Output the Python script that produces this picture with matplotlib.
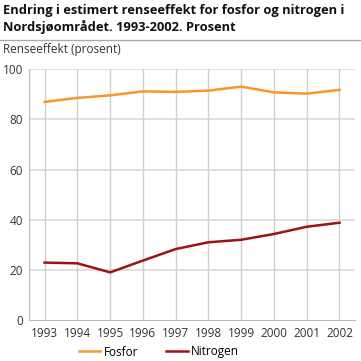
import matplotlib
matplotlib.use("Agg")
import matplotlib.pyplot as plt
from matplotlib.lines import Line2D

years = ["1993", "1994", "1995", "1996", "1997", "1998", "1999", "2000", "2001", "2002"]
fosfor = [87.0, 88.6, 89.6, 91.2, 91.0, 91.5, 93.1, 90.8, 90.3, 91.8]
nitrogen = [22.9, 22.6, 19.0, 23.7, 28.3, 31.0, 32.0, 34.3, 37.2, 38.8]
yticks = [0, 20, 40, 60, 80, 100]

plt.rcParams['font.family'] = ['Open Sans', 'DejaVu Sans']

fig = plt.figure(figsize=(3.61, 3.61), dpi=100)
ax = fig.add_axes([0.080, 0.1136, 0.903, 0.6944])

x = list(range(len(years)))
c_f = '#f7962b'
c_n = '#9e1212'
ax.plot(x, fosfor, color=c_f, lw=1.8, solid_joinstyle='round', zorder=3)
ax.plot(x, nitrogen, color=c_n, lw=1.8, solid_joinstyle='round', zorder=3)

ax.set_xlim(-0.48, len(years) - 1 + 0.47)
ax.set_ylim(0, 100)
ax.set_xticks(x)
ax.set_xticklabels(years)
ax.set_yticks(yticks)
ax.tick_params(axis='both', length=0, labelsize=8.5, colors='#333333')
ax.tick_params(axis='x', pad=5)
ax.tick_params(axis='y', pad=4)

for v in yticks[1:]:
    ax.axhline(v, color='#dcdcdc', lw=1.3, zorder=1)
for xi in x:
    ax.axvline(xi, color='#cfcfcf', lw=1.0, zorder=1)

for s in ['top', 'right']:
    ax.spines[s].set_visible(False)
ax.spines['left'].set_color('#bbbbbb')
ax.spines['bottom'].set_color('#bbbbbb')
ax.spines['left'].set_linewidth(0.8)
ax.spines['bottom'].set_linewidth(0.8)

fig.text(0.008, 0.988, "Endring i estimert renseeffekt for fosfor og nitrogen i\nNordsjøområdet. 1993-2002. Prosent",
         fontsize=9.3, fontweight='bold', va='top', ha='left', linespacing=1.2, color='#111111')
fig.add_artist(Line2D([0, 1], [1 - 39.7/361, 1 - 39.7/361], color='#aaaaaa', lw=1.0))
fig.text(0.008, 1 - 50/361, "Renseeffekt (prosent)", fontsize=8.5, va='center', ha='left', color='#333333')

handles = [Line2D([], [], color=c_f, lw=1.8), Line2D([], [], color=c_n, lw=1.8)]
fig.legend(handles, ["Fosfor", "Nitrogen"], loc='center', bbox_to_anchor=(159/361, 1 - 352/361),
           ncol=2, frameon=False, fontsize=8.5, handlelength=1.8, columnspacing=2.4, handletextpad=0.3)

fig.savefig("out.png", dpi=100)
